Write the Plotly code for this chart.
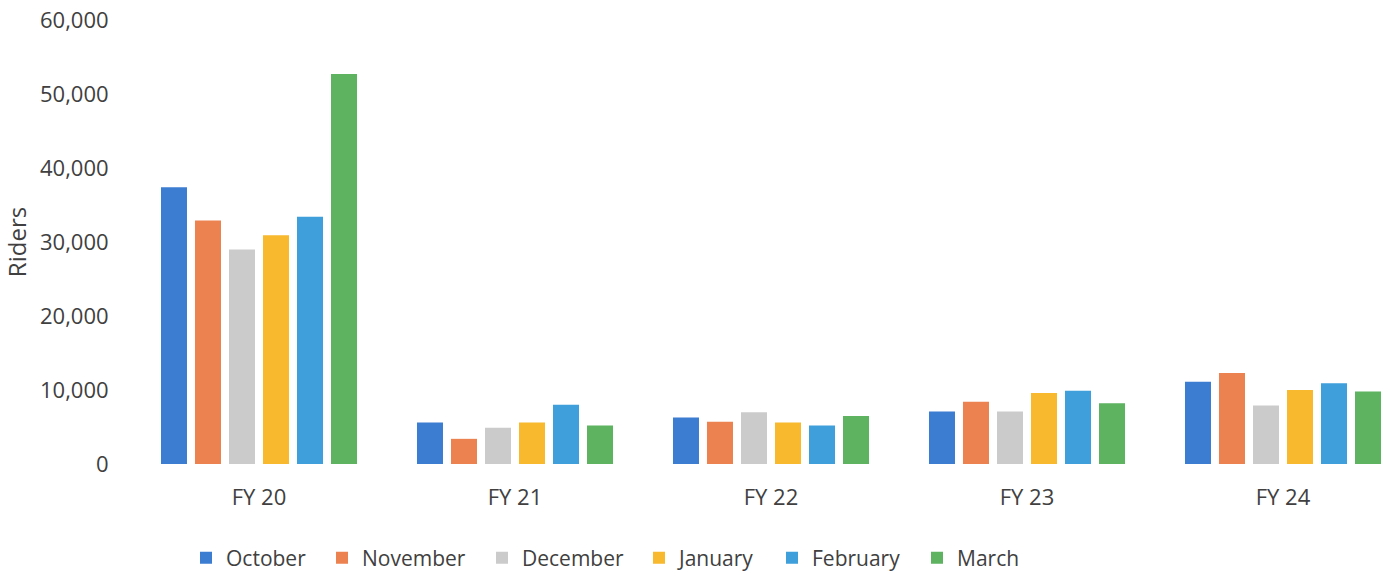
import plotly.graph_objects as go

categories = ["FY 20", "FY 21", "FY 22", "FY 23", "FY 24"]
months = ["October", "November", "December", "January", "February", "March"]
october = [37400, 5600, 6300, 7100, 11100]
november = [32900, 3400, 5700, 8400, 12300]
december = [29000, 4900, 7000, 7100, 7900]
january = [30900, 5600, 5600, 9600, 10000]
february = [33400, 8000, 5200, 9900, 10900]
march = [52700, 5200, 6500, 8200, 9800]
series = [october, november, december, january, february, march]
colors = ["#3C7DD1", "#EC8250", "#CBCBCB", "#F8B92E", "#3E9FDB", "#5DB360"]

# left pixel of each legend swatch in the reference
legend_px = [200, 336, 496, 653, 786, 931]

W, H = 1388, 574
font = "Open Sans, Liberation Sans, sans-serif"
txt = "#404040"

fig = go.Figure()
legend_ids = ["legend"] + ["legend%d" % i for i in range(2, 7)]
for name, vals, col, lid in zip(months, series, colors, legend_ids):
    fig.add_trace(go.Bar(x=categories, y=vals, name=name, legend=lid,
                         marker=dict(color=col, line=dict(width=0))))

legend_layouts = {}
for lid, px in zip(legend_ids, legend_px):
    legend_layouts[lid] = dict(
        orientation="h", xref="container", yref="container",
        x=(px - 14) / W, xanchor="left", y=1 - 558 / H, yanchor="middle",
        font=dict(size=21, color=txt), itemwidth=30, bgcolor="rgba(0,0,0,0)",
    )

# plot area runs past the right edge of the picture (cropped chart)
left = 131
cat_w = 256
x_hi = -0.5 + (W - left) / cat_w

fig.update_layout(
    width=W, height=H,
    margin=dict(l=left, r=0, t=20, b=110, autoexpand=False),
    paper_bgcolor="white", plot_bgcolor="white",
    barmode="group", bargap=0.203, bargroupgap=0.235,
    font=dict(family=font, size=21, color=txt),
    showlegend=True,
    xaxis=dict(range=[-0.5, x_hi], showgrid=False, showline=False, zeroline=False,
               ticks="outside", ticklen=14, tickcolor="rgba(0,0,0,0)",
               tickfont=dict(size=22, color=txt)),
    yaxis=dict(range=[0, 60000], dtick=10000, tickformat=",", showgrid=False, showline=False,
               zeroline=False, ticks="outside", ticklen=17, tickcolor="rgba(0,0,0,0)",
               tickfont=dict(size=22, color=txt),
               title=dict(text="Riders", font=dict(size=24, color=txt), standoff=11)),
    **legend_layouts,
)

fig.write_html("out.html", config={"displayModeBar": False},
               post_script="document.body.style.margin='0px';")
